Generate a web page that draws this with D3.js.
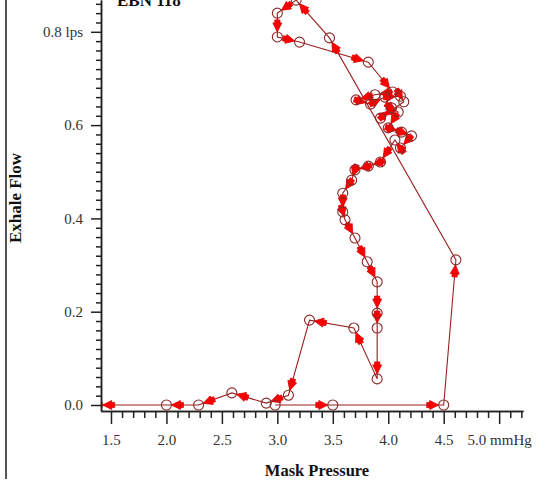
<!DOCTYPE html>
<html>
<head>
<meta charset="utf-8">
<script src="https://cdn.jsdelivr.net/npm/d3@7/dist/d3.min.js"></script>
<style>
  html, body { margin: 0; padding: 0; background: #fff; }
  svg { display: block; }
  .axis text { font-family: "Liberation Serif", "Times New Roman", serif; font-size: 15px; fill: #333; }
  .axis path, .axis line { stroke: #222; stroke-width: 1.5; }
</style>
</head>
<body>
<svg id="chart" width="545" height="481"></svg>
<script>
// Breath loop: mask pressure (mmHg) vs exhale flow (lps), in time order
const pressure = [
  2.98, 3.50, 4.50, 4.61, 3.47, 3.17, 3.00, 3.00, 3.20, 3.82,
  4.04, 3.88, 3.71, 3.84, 3.97, 4.11, 4.14, 3.93, 4.03, 4.09,
  4.00, 4.12, 4.21, 4.11, 4.06, 3.93, 3.82, 3.70, 3.67, 3.59,
  3.59, 3.61, 3.70, 3.81, 3.90, 3.90, 3.90, 3.90, 3.69, 3.29,
  3.10, 2.90, 2.59, 2.29, 2.00, 1.38
];
const flow = [
  0.000, 0.000, 0.000, 0.311, 0.787, 0.868, 0.840, 0.789, 0.778, 0.735,
  0.671, 0.665, 0.654, 0.645, 0.660, 0.662, 0.650, 0.615, 0.637, 0.628,
  0.594, 0.585, 0.577, 0.551, 0.568, 0.521, 0.512, 0.504, 0.482, 0.454,
  0.414, 0.397, 0.358, 0.307, 0.264, 0.197, 0.165, 0.056, 0.165, 0.182,
  0.021, 0.004, 0.026, 0.000, 0.000, 0.000
];

const xMajorTicks = [1.5, 2.0, 2.5, 3.0, 3.5, 4.0, 4.5, 5.0];
const xTickLabels = ["1.5", "2.0", "2.5", "3.0", "3.5", "4.0", "4.5", "5.0 mmHg"];
const yMajorTicks = [0.0, 0.2, 0.4, 0.6, 0.8];
const yTickLabels = ["0.0", "0.2", "0.4", "0.6", "0.8 lps"];

const titleText = "EBN 118";
const xTitle = "Mask Pressure";
const yTitle = "Exhale Flow";

const svg = d3.select("#chart");
const plotLeft = 101, plotRight = 523, plotTop = 0, plotBottom = 411;

const x = d3.scaleLinear().domain([1.41, 5.215]).range([plotLeft, plotRight]);
const y = d3.scaleLinear().domain([-0.01286, 0.8682]).range([plotBottom, plotTop]);

// frame edge on the left
svg.append("line")
  .attr("x1", 6).attr("x2", 6).attr("y1", 0).attr("y2", 479)
  .attr("stroke", "#555").attr("stroke-width", 2);

// minor ticks
const xMinor = d3.range(15, 53).map(d => d / 10).filter(v => !xMajorTicks.some(m => Math.abs(m - v) < 1e-6));
const yMinor = d3.range(0, 44).map(d => d * 0.02).filter(v => !yMajorTicks.some(m => Math.abs(m - v) < 1e-6));

svg.append("g").attr("class", "axis")
  .attr("transform", `translate(0,${plotBottom})`)
  .call(d3.axisBottom(x).tickValues(xMinor).tickSize(7).tickSizeOuter(0).tickFormat(""));
svg.append("g").attr("class", "axis")
  .attr("transform", `translate(0,${plotBottom})`)
  .call(d3.axisBottom(x).tickValues(xMajorTicks).tickSize(13).tickSizeOuter(0)
    .tickPadding(10).tickFormat((d, i) => xTickLabels[i]));

svg.append("g").attr("class", "axis")
  .attr("transform", `translate(${plotLeft},0)`)
  .call(d3.axisLeft(y).tickValues(yMinor).tickSize(5).tickSizeOuter(0).tickFormat(""));
svg.append("g").attr("class", "axis")
  .attr("transform", `translate(${plotLeft},0)`)
  .call(d3.axisLeft(y).tickValues(yMajorTicks).tickSize(10).tickSizeOuter(0)
    .tickPadding(8).tickFormat((d, i) => yTickLabels[i]));

// titles
svg.append("text").attr("x", 117).attr("y", 6)
  .attr("font-family", "Liberation Serif, serif").attr("font-weight", "bold")
  .attr("font-size", 17).attr("fill", "#111").text(titleText);
svg.append("text").attr("x", 317).attr("y", 476).attr("text-anchor", "middle")
  .attr("font-family", "Liberation Serif, serif").attr("font-weight", "bold")
  .attr("font-size", 16.5).attr("fill", "#111").text(xTitle);
svg.append("text").attr("transform", "translate(21,198) rotate(-90)")
  .attr("text-anchor", "middle")
  .attr("font-family", "Liberation Serif, serif").attr("font-weight", "bold")
  .attr("font-size", 17).attr("fill", "#111").text(yTitle);

// plot area clip
svg.append("clipPath").attr("id", "plotclip")
  .append("rect").attr("x", plotLeft + 1).attr("y", -20).attr("width", 545).attr("height", plotBottom + 20);

const pts = pressure.map((p, i) => ({ px: x(p), py: y(flow[i]) }));
const plot = svg.append("g").attr("clip-path", "url(#plotclip)");

plot.append("path")
  .attr("d", d3.line().x(d => d.px).y(d => d.py)(pts))
  .attr("fill", "none").attr("stroke", "#9a1f1f").attr("stroke-width", 1.1);

// direction arrowheads near the end of each segment
const r = 5;
const arrows = [];
for (let i = 1; i < pts.length; i++) {
  const a = pts[i - 1], b = pts[i];
  const dx = b.px - a.px, dy = b.py - a.py;
  const len = Math.hypot(dx, dy);
  if (len < 1) continue;
  const ux = dx / len, uy = dy / len;
  const t = Math.min(r, len * 0.4);
  arrows.push({ x: b.px - ux * t, y: b.py - uy * t, ang: Math.atan2(dy, dx) * 180 / Math.PI });
}
plot.selectAll("path.arrow").data(arrows).enter().append("path")
  .attr("class", "arrow")
  .attr("d", "M0,0 L-9,-4.5 L-9,4.5 Z M-9,-2.6 L-12,-2.6 L-12,2.6 L-9,2.6 Z")
  .attr("transform", d => `translate(${d.x},${d.y}) rotate(${d.ang})`)
  .attr("fill", "#ff0000").attr("stroke", "#e00000").attr("stroke-width", 0.8);

plot.selectAll("circle.pt").data(pts).enter().append("circle")
  .attr("class", "pt")
  .attr("cx", d => d.px).attr("cy", d => d.py).attr("r", r)
  .attr("fill", "none").attr("stroke", "#8a2a2a").attr("stroke-width", 1.1);
</script>
</body>
</html>
